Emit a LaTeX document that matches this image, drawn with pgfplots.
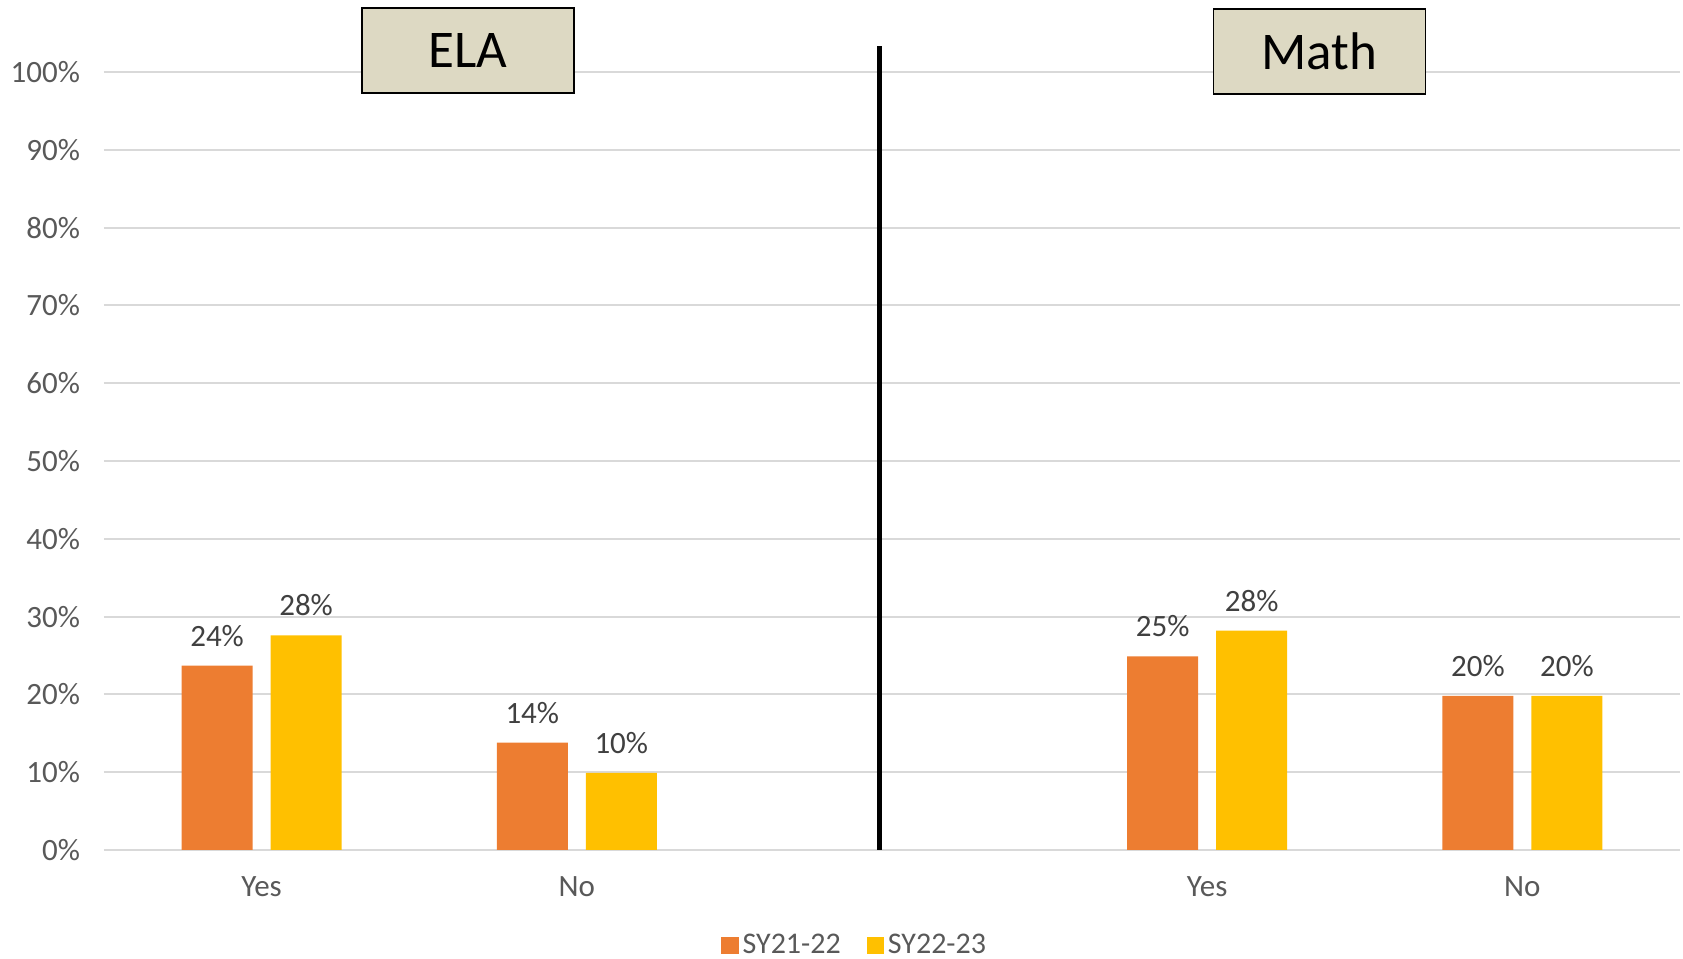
\documentclass[border=0pt]{standalone}
\usepackage{fontspec}
\setmainfont{Carlito}
\usepackage{pgfplots}
\pgfplotsset{compat=1.18}

\definecolor{orng}{HTML}{ED7D31}
\definecolor{gold}{HTML}{FFC000}
\definecolor{gridc}{HTML}{D9D9D9}
\definecolor{txt}{HTML}{595959}
\definecolor{lbl}{HTML}{404040}
\definecolor{tan}{HTML}{DDD9C3}

\begin{document}
\begin{tikzpicture}
\path[use as bounding box] (-52pt,-54.5pt) rectangle (789.5pt,425pt);
\begin{axis}[
    at={(0,0)}, anchor=south west,
    scale only axis,
    width=788pt, height=389pt,
    ybar=9pt, bar width=35.5pt,
    xmin=-0.5, xmax=4.5,
    ymin=0, ymax=100,
    xtick={0,1,3,4},
    xticklabels={Yes,No,Yes,No},
    ytick={0,10,...,100},
    yticklabel={\pgfmathprintnumber{\tick}\%},
    /pgf/number format/assume math mode=true,
    major tick length=0pt,
    axis line style={draw=none},
    ymajorgrids,
    grid style={gridc, line width=1pt},
    tick label style={font=\fontsize{15.5}{18}\selectfont, text=txt},
    yticklabel style={xshift=-8.5pt},
    xticklabel style={yshift=-10pt},
    nodes near coords={\pgfmathprintnumber[fixed,precision=0]{\pgfplotspointmeta}\%},
    every node near coord/.append style={font=\fontsize{15.5}{18}\selectfont, text=lbl, yshift=6pt},
    clip=false,
    legend style={at={(0.477,-0.123)}, anchor=center, draw=none, legend columns=2,
        font=\fontsize{15}{18}\selectfont, text=txt,
        /tikz/every even column/.append style={column sep=11pt}},
    legend image code/.code={\fill[#1] (0pt,-4.3pt) rectangle (8.6pt,4.3pt);},
]
\addplot[fill=orng, draw=none] coordinates {(0,23.7) (1,13.8) (3,24.9) (4,19.8)};
\addplot[fill=gold, draw=none] coordinates {(0,27.6) (1,9.9) (3,28.2) (4,19.8)};
\legend{SY21-22, SY22-23}
\draw[black, line width=2.2pt] (axis cs:1.96,0) -- (axis cs:1.96,103.3);
\node[draw=black, line width=0.8pt, fill=tan, minimum width=106pt, minimum height=42.5pt,
      font=\fontsize{26.5}{30}\selectfont] at (axis cs:0.655,102.8) {ELA};
\node[draw=black, line width=0.8pt, fill=tan, minimum width=106pt, minimum height=42.5pt,
      font=\fontsize{26.5}{30}\selectfont] at (axis cs:3.356,102.6) {Math};
\end{axis}
\end{tikzpicture}
\end{document}
